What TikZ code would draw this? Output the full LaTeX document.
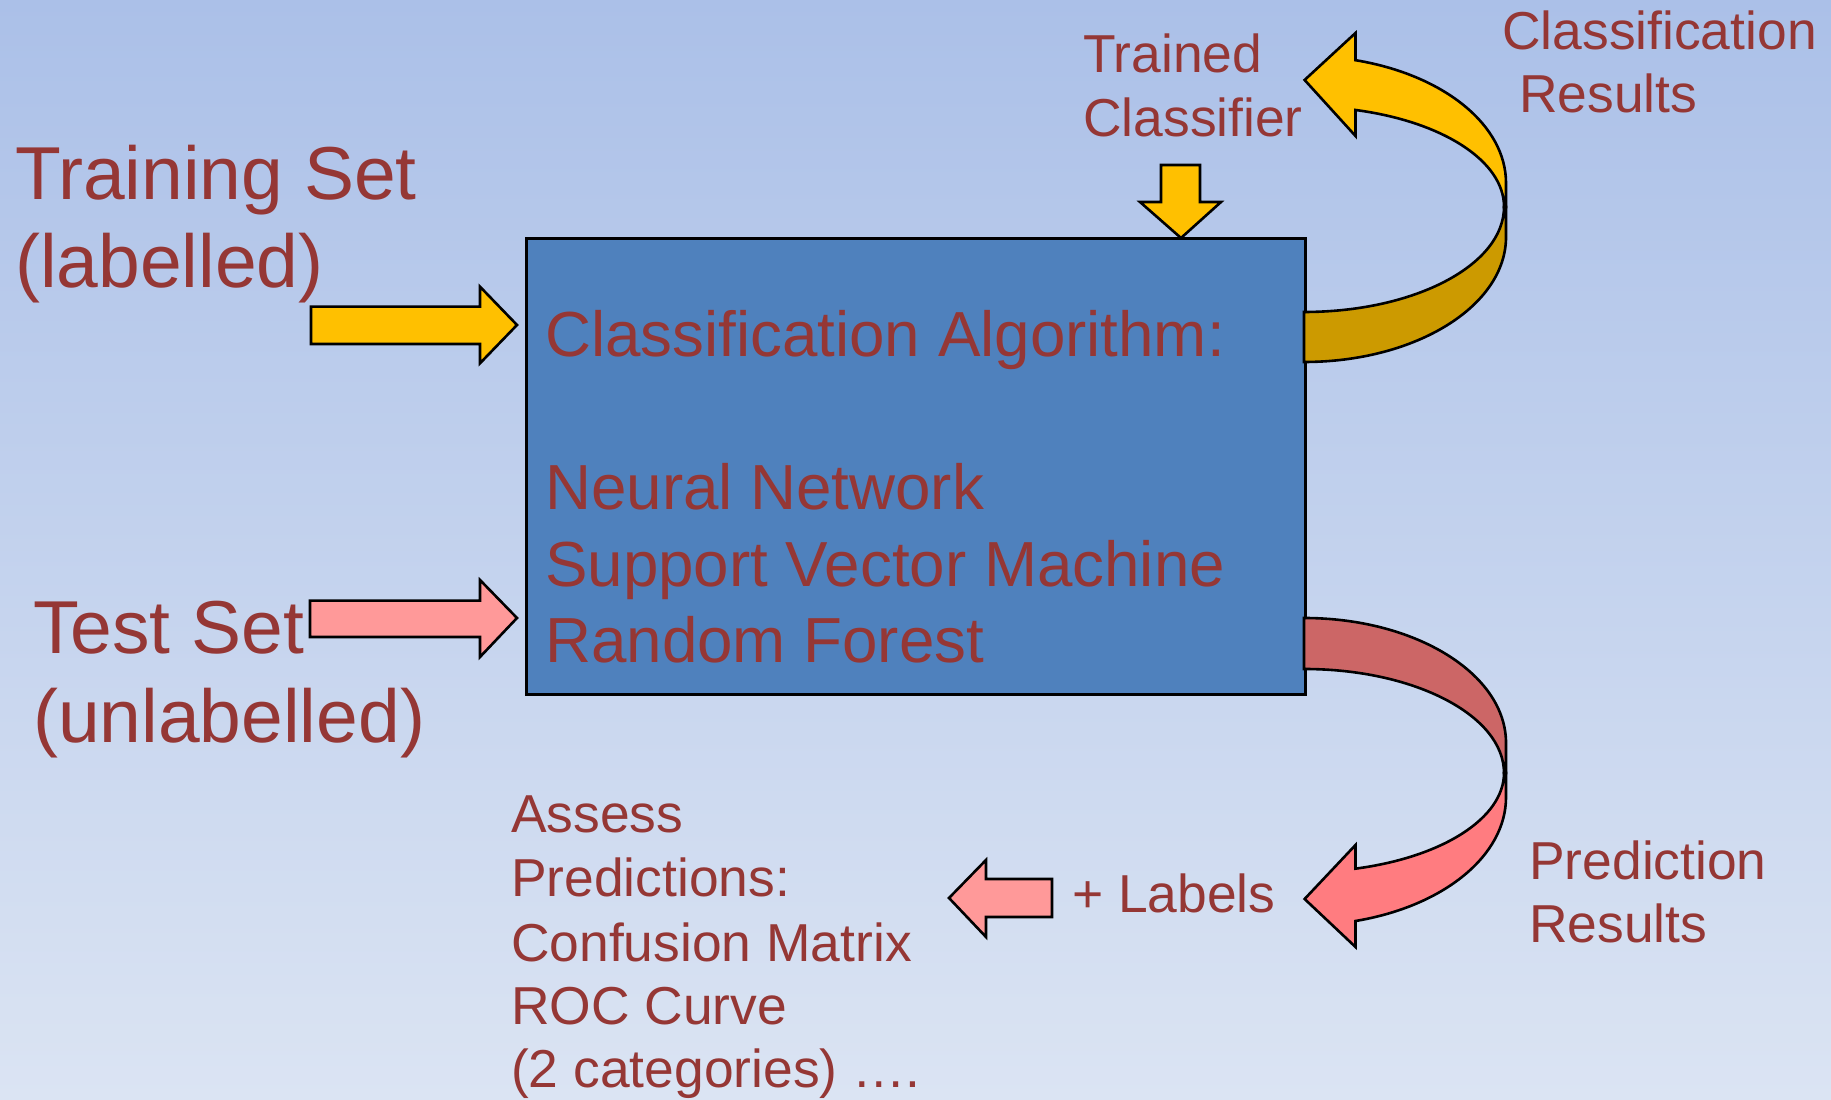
\documentclass[tikz,border=0pt]{standalone}
\usepackage{fontspec}
\setmainfont{Liberation Sans}
\definecolor{txt}{RGB}{149,55,53}
\definecolor{boxblue}{RGB}{79,129,189}
\definecolor{gold}{RGB}{255,192,0}
\definecolor{darkgold}{RGB}{204,154,0}
\definecolor{pinkarrow}{RGB}{255,153,153}
\definecolor{pinkcurve}{RGB}{255,124,128}
\definecolor{darkpink}{RGB}{204,102,102}
\definecolor{bgtop}{RGB}{171,192,232}
\definecolor{bgbot}{RGB}{219,228,243}
\tikzset{
  biglbl/.style={font=\fontsize{75}{88}\selectfont, text=txt, anchor=base west, inner sep=0pt},
  boxlbl/.style={font=\fontsize{63.7}{77}\selectfont, text=txt, anchor=base west, inner sep=0pt},
  smalllbl/.style={font=\fontsize{53.4}{64}\selectfont, text=txt, anchor=base west, inner sep=0pt},
  blockarrow/.style={draw=black, line width=2.6pt, line join=miter},
}
\begin{document}
\begin{tikzpicture}[x=1pt,y=1pt]
\useasboundingbox (0,0) rectangle (1831,1100);
\shade[top color=bgtop, bottom color=bgbot] (0,0) rectangle (1831,1100);

% main box
\node[draw=black, line width=2.6pt, fill=boxblue, minimum width=779pt, minimum height=456pt, anchor=south west, inner sep=0pt] (box) at (525,404) {};

% box text
\node[boxlbl] (alg) at (545,743) {Classification Algorithm:};
\node[boxlbl] (nn)  at (545,590) {Neural Network};
\node[boxlbl] (svm) at (545,513) {Support Vector Machine};
\node[boxlbl] (rf)  at (545,437) {Random Forest};

% left labels
\node[biglbl] (tr1) at (15,900) {Training Set};
\node[biglbl] (tr2) at (15,812) {(labelled)};
\node[biglbl] (te1) at (33,446) {Test Set};
\node[biglbl] (te2) at (33,357) {(unlabelled)};

% straight arrows into box
\filldraw[blockarrow, fill=gold] (311,756) -- (480,756) -- (480,736.7) -- (517,775) -- (480,813.3) -- (480,793.3) -- (311,793.3) -- cycle;
\filldraw[blockarrow, fill=pinkarrow] (310,463) -- (480,463) -- (480,443) -- (517,482) -- (480,520) -- (480,499.3) -- (310,499.3) -- cycle;

% trained classifier
\node[smalllbl] (tc1) at (1083,1027) {Trained};
\node[smalllbl] (tc2) at (1083,963) {Classifier};
\filldraw[blockarrow, fill=gold] (1161,935) -- (1200,935) -- (1200,898) -- (1221,898) -- (1181,862) -- (1140,898) -- (1161,898) -- cycle;

% upper curved arrow (classification results)
\filldraw[blockarrow, fill=darkgold] (1304,788) arc[start angle=-90, end angle=0, x radius=200, y radius=105] -- (1506,893) -- (1506,863) arc[start angle=0, end angle=-90, x radius=202, y radius=125] -- cycle;
\filldraw[blockarrow, fill=gold] (1504,893) -- (1506,893) -- (1506,917) arc[start angle=0, end angle=75.23, x radius=202, y radius=127] -- (1355.5,1067) -- (1304.6,1020) -- (1355.5,964) -- (1355.5,990) arc[start angle=75.08, end angle=0, x radius=200, y radius=100] -- cycle;
\node[smalllbl] (cr1) at (1502,1050) {Classification};
\node[smalllbl] (cr2) at (1519,987) {Results};

% lower curved arrow (prediction results)
\filldraw[blockarrow, fill=darkpink] (1304,482) arc[start angle=90, end angle=0, x radius=202, y radius=125] -- (1506,327) -- (1504,327) arc[start angle=0, end angle=90, x radius=200, y radius=104] -- cycle;
\filldraw[blockarrow, fill=pinkcurve] (1504,327) arc[start angle=0, end angle=-75.08, x radius=200, y radius=99] -- (1355.5,255) -- (1304.6,201) -- (1355.5,153) -- (1355.5,179) arc[start angle=-75.23, end angle=0, x radius=202, y radius=128] -- (1506,327) -- cycle;
\node[smalllbl] (pr1) at (1529,220) {Prediction};
\node[smalllbl] (pr2) at (1529,157) {Results};

% + labels arrow
\node[smalllbl] (lab) at (1072,187) {+ Labels};
\filldraw[blockarrow, fill=pinkarrow] (1052,183) -- (986,183) -- (986,163) -- (949,202) -- (986,240) -- (986,221) -- (1052,221) -- cycle;

% assess predictions
\node[smalllbl] (as1) at (511,267) {Assess};
\node[smalllbl] (as2) at (511,203) {Predictions:};
\node[smalllbl] (as3) at (511,138) {Confusion Matrix};
\node[smalllbl] (as4) at (511,75) {ROC Curve};
\node[smalllbl] (as5) at (511,12) {(2 categories) ….};
\end{tikzpicture}
\end{document}
